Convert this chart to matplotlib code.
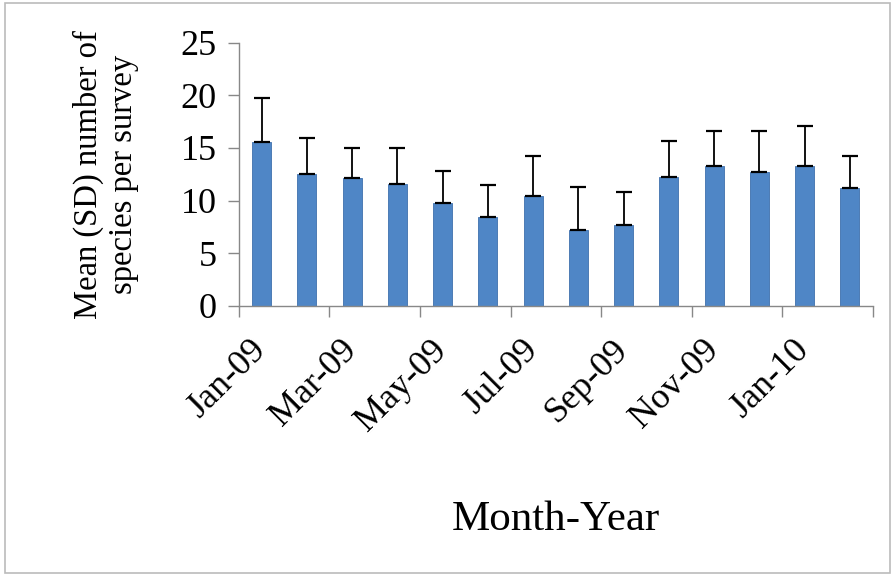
import numpy as np
import matplotlib
matplotlib.use("Agg")
import matplotlib.pyplot as plt
import matplotlib.transforms as mtransforms
from matplotlib.patches import Rectangle

months = ["Jan-09", "Feb-09", "Mar-09", "Apr-09", "May-09", "Jun-09", "Jul-09",
          "Aug-09", "Sep-09", "Oct-09", "Nov-09", "Dec-09", "Jan-10", "Feb-10"]
mean_species = [15.6, 12.5, 12.1, 11.6, 9.8, 8.4, 10.4, 7.2, 7.7, 12.2, 13.3, 12.7, 13.3, 11.2]
sd_species = [4.1, 3.4, 2.9, 3.4, 3.0, 3.1, 3.8, 4.1, 3.1, 3.5, 3.3, 3.9, 3.8, 3.0]

plt.rcParams["font.family"] = ["Liberation Serif", "DejaVu Serif"]

fig = plt.figure(figsize=(8.95, 5.76), dpi=100)
ax = fig.add_axes([0.267, 0.469, 0.708, 0.457])

x = np.arange(len(months))
ax.bar(x, mean_species, width=0.42, color="#4f86c6", edgecolor="#3f70ad",
       linewidth=0.6, zorder=2)
ax.errorbar(x, mean_species, yerr=[np.zeros(len(x)), sd_species], fmt="none",
            ecolor="black", elinewidth=1.3, capsize=6, capthick=1.6, zorder=3)

ax.set_xlim(-0.5, len(months) - 0.5)
ax.set_ylim(0, 25)
ax.set_yticks([0, 5, 10, 15, 20, 25])

# labels every other month, tick marks on category boundaries
ax.set_xticks(x[::2])
ax.set_xticklabels(months[::2], rotation=45, ha="right", rotation_mode="anchor")
ax.set_xticks(np.arange(-0.5, len(months), 2), minor=True)
ax.tick_params(axis="x", which="major", length=0, labelsize=26, pad=20)
ax.tick_params(axis="x", which="minor", length=8, color="#888888", width=1)
ax.tick_params(axis="y", length=8, color="#888888", width=1, labelsize=26, pad=8)
shift = mtransforms.ScaledTranslation(-0.12, 0, fig.dpi_scale_trans)
for lbl in ax.get_xticklabels():
    lbl.set_transform(lbl.get_transform() + shift)

for side in ["top", "right"]:
    ax.spines[side].set_visible(False)
for side in ["left", "bottom"]:
    ax.spines[side].set_color("#888888")
    ax.spines[side].set_linewidth(1)

ax.set_ylabel("Mean (SD) number of\nspecies per survey", fontsize=23.5,
              linespacing=1.2, labelpad=30)
ax.set_xlabel("Month-Year", fontsize=31, labelpad=45)

# chart area border
fig.patches.append(Rectangle((0.006, 0.006), 0.988, 0.988, transform=fig.transFigure,
                             fill=False, edgecolor="#bbbbbb", linewidth=1.2))

fig.savefig("out.png", dpi=100)
